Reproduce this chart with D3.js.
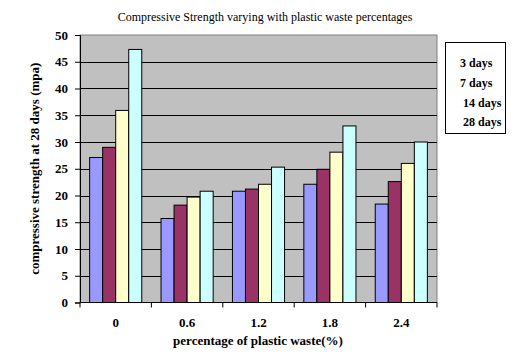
<!DOCTYPE html>
<html><head><meta charset="utf-8">
<script src="https://cdn.jsdelivr.net/npm/d3@7"></script>
<style>body{margin:0;background:#fff}svg{display:block}text{font-family:"Liberation Serif","Times New Roman",serif}</style>
</head><body>
<svg id="c" width="529" height="357"></svg>
<script>
const categories = ["0", "0.6", "1.2", "1.8", "2.4"];
const seriesNames = ["3 days", "7 days", "14 days", "28 days"];
const days3  = [27.1, 15.7, 20.8, 22.1, 18.4];
const days7  = [29.0, 18.2, 21.2, 24.9, 22.6];
const days14 = [35.9, 19.7, 22.1, 28.1, 26.0];
const days28 = [47.3, 20.8, 25.3, 33.0, 30.0];
const yTicks = [0, 5, 10, 15, 20, 25, 30, 35, 40, 45, 50];
const colors = ["#9999FF", "#993366", "#FFFFCC", "#CCFFFF"];
const series = [days3, days7, days14, days28];

const svg = d3.select("#c");
const L = 80, R = 437, T = 35, B = 302.5;

const x0 = d3.scaleBand().domain(categories).range([L, R]).paddingInner(0.27).paddingOuter(0.135);
const x1 = d3.scaleBand().domain(seriesNames).range([0, x0.bandwidth()]);
const y = d3.scaleLinear().domain([0, 50]).range([B, T]);

// plot background
svg.append("rect").attr("x", L).attr("y", T).attr("width", R - L).attr("height", B - T)
  .attr("fill", "#C0C0C0").attr("stroke", "#808080").attr("stroke-width", 1);

// gridlines
svg.append("g").selectAll("line").data(yTicks.filter(d => d > 0 && d < 50)).join("line")
  .attr("x1", L).attr("x2", R).attr("y1", d => Math.round(y(d)) + 0.5).attr("y2", d => Math.round(y(d)) + 0.5)
  .attr("stroke", "#000").attr("stroke-width", 1);

// bars
const g = svg.append("g");
categories.forEach((c, i) => {
  series.forEach((s, j) => {
    g.append("rect")
      .attr("x", x0(c) + x1(seriesNames[j]))
      .attr("y", y(s[i]))
      .attr("width", x1.bandwidth())
      .attr("height", y(0) - y(s[i]))
      .attr("fill", colors[j]).attr("stroke", "#000").attr("stroke-width", 1);
  });
});

// y axis
const yAxis = d3.axisLeft(y).tickValues(yTicks).tickSize(5).tickPadding(7);
const ya = svg.append("g").attr("transform", `translate(${L},0)`).call(yAxis);
ya.select(".domain").attr("stroke", "#000");
ya.selectAll("text").attr("font-size", 13).attr("font-weight", "bold")
  .attr("font-family", "Liberation Serif, serif").attr("fill", "#000");

// x axis
const xa = svg.append("g").attr("transform", `translate(0,${B})`);
xa.append("line").attr("x1", L).attr("x2", R).attr("y1", 0).attr("y2", 0).attr("stroke", "#000");
const bounds = d3.range(categories.length + 1).map(i => L + i * (R - L) / categories.length);
xa.selectAll(".tk").data(bounds).join("line").attr("class", "tk")
  .attr("x1", d => d).attr("x2", d => d).attr("y1", 0).attr("y2", 5).attr("stroke", "#000");
xa.selectAll(".lb").data(categories).join("text").attr("class", "lb")
  .attr("x", d => x0(d) + x0.bandwidth() / 2).attr("y", 24)
  .attr("text-anchor", "middle").attr("font-size", 13).attr("font-weight", "bold").text(d => d);

// titles
svg.append("text").attr("x", 265).attr("y", 21).attr("text-anchor", "middle")
  .attr("font-size", 12).text("Compressive Strength varying with plastic waste percentages");
svg.append("text").attr("x", 258).attr("y", 345).attr("text-anchor", "middle")
  .attr("font-size", 13).attr("font-weight", "bold").text("percentage of plastic waste(%)");
svg.append("text").attr("transform", `translate(39,${(T + B) / 2}) rotate(-90)`)
  .attr("text-anchor", "middle").attr("font-size", 13).attr("font-weight", "bold")
  .text("compressive strength at 28 days (mpa)");

// legend (text only)
svg.append("rect").attr("x", 445.5).attr("y", 42.5).attr("width", 60).attr("height", 91)
  .attr("fill", "#fff").attr("stroke", "#000");
const lx = [460, 460, 463, 463];
svg.append("g").selectAll("text").data(seriesNames).join("text")
  .attr("x", (d, i) => lx[i]).attr("y", (d, i) => 67 + i * 19.8)
  .attr("font-size", 12).attr("font-weight", "bold").text(d => d);
</script>
</body></html>
